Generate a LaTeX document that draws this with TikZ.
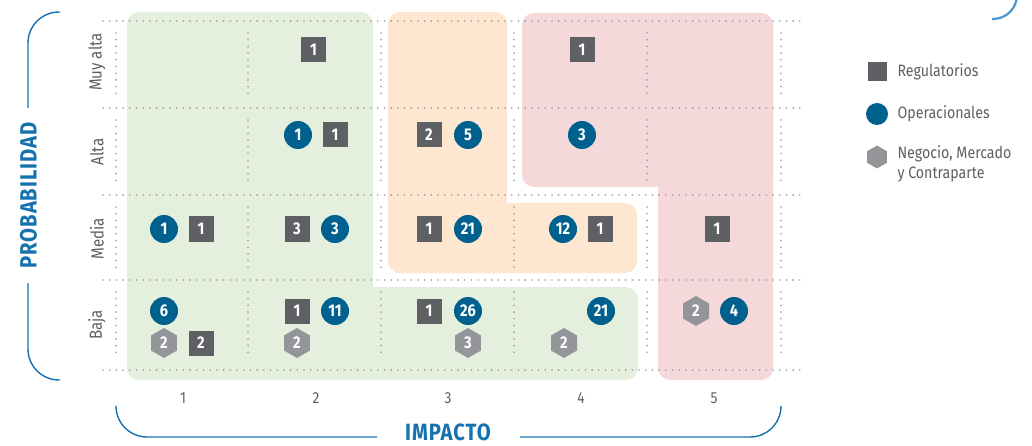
\documentclass[tikz,border=0pt]{standalone}
\usepackage{fontspec}
\setmainfont{Fira Sans}[FakeStretch=0.86]
\newfontfamily\axisfont{Fira Sans}[FakeStretch=0.86, LetterSpace=4]
\usetikzlibrary{shapes.geometric}
\definecolor{greenbg}{HTML}{E4F0DD}
\definecolor{orangebg}{HTML}{FDE7D0}
\definecolor{pinkbg}{HTML}{F5D8DA}
\definecolor{regc}{HTML}{5F6064}
\definecolor{opc}{HTML}{00618E}
\definecolor{negc}{HTML}{939598}
\definecolor{axisblue}{HTML}{1572AE}
\definecolor{arcblue}{HTML}{4A96CF}
\definecolor{dotc}{HTML}{9A9A9A}
\definecolor{txtc}{HTML}{5E5F62}
\begin{document}
\begin{tikzpicture}[x=1pt,y=-1pt,
  mfont/.style={font=\fontsize{17}{17}\selectfont\bfseries},
  reg/.style={rectangle, fill=regc, minimum size=25pt, inner sep=0pt, text=white, mfont},
  op/.style={circle, fill=opc, minimum size=28pt, inner sep=0pt, text=white, mfont},
  neg/.style={regular polygon, regular polygon sides=6, shape border rotate=30, fill=negc, minimum size=30pt, inner sep=0pt, text=white, mfont},
  dotline/.style={dotc, line width=1.8pt, line cap=round, dash pattern=on 0pt off 6.7pt},
  bracket/.style={axisblue, line width=1.4pt, rounded corners=31pt},
  rowlab/.style={txtc, rotate=90, font=\fontsize{17.5}{17.5}\selectfont},
  collab/.style={txtc, font=\fontsize{16}{16}\selectfont},
  axislab/.style={axisblue, inner sep=0pt, font=\axisfont\fontsize{23.5}{23.5}\selectfont\bfseries},
  legtext/.style={txtc, anchor=west, align=left, font=\fontsize{16.5}{19.5}\selectfont}
]
\useasboundingbox (0,0) rectangle (1032,446);
% coloured regions
\fill[greenbg, rounded corners=12pt] (127,12) rectangle (373,380);
\fill[greenbg, rounded corners=12pt] (127,287) rectangle (638,380);
\fill[orangebg, rounded corners=12pt] (388,12) rectangle (507,273);
\fill[orangebg, rounded corners=12pt] (388,203) rectangle (637,273);
\fill[pinkbg, rounded corners=12pt] (522,13) rectangle (773,187);
\fill[pinkbg, rounded corners=12pt] (658,13) rectangle (773,380);
% dotted grid
\foreach \y in {21,108,195,280,370} \draw[dotline] (103,\y) -- (800,\y);
\foreach \x in {116,248,381,514,647,781}
  \foreach \a/\b in {33/95,120/183,207/270,292/358}
    \draw[dotline] (\x,\a) -- (\x,\b);
% brackets
\draw[bracket] (60,12) -- (28,12) -- (28,108);
\draw[bracket] (28,283) -- (28,380) -- (60,380);
\draw[bracket] (116,407) -- (116,437) -- (377,437);
\draw[bracket] (520,437) -- (781,437) -- (781,407);
\draw[arcblue, line width=2.2pt, rounded corners=24pt] (992,19) -- (1017,19) -- (1017,-30);
% axis titles
\node[axislab, rotate=90] (prob) at (28.5,195.5) {PROBABILIDAD};
\node[axislab, anchor=base] (imp) at (448,440.5) {IMPACTO};
% row labels
\node[rowlab] (l1) at (97,62) {Muy alta};
\node[rowlab] (l2) at (97,152) {Alta};
\node[rowlab] (l3) at (97,239) {Media};
\node[rowlab] (l4) at (97,325) {Baja};
% column labels
\node[collab] (c1) at (183,398) {1};
\node[collab] (c2) at (316,398) {2};
\node[collab] (c3) at (448,398) {3};
\node[collab] (c4) at (581,398) {4};
\node[collab] (c5) at (714,398) {5};
% markers column 1
\node[op] (o31) at (164,229) {1};
\node[reg] (r31) at (201,229) {1};
\node[op] (o41) at (164,311) {6};
\node[neg] (n41) at (164,343) {2};
\node[reg] (r41) at (201,343) {2};
% column 2
\node[reg] (r12) at (313.5,49.5) {1};
\node[op] (o22) at (298,135) {1};
\node[reg] (r22) at (335,135) {1};
\node[reg] (r32) at (297,229) {3};
\node[op] (o32) at (335,229) {3};
\node[reg] (r42) at (297,311) {1};
\node[op] (o42) at (335,311) {11};
\node[neg] (n42) at (297,343) {2};
% column 3
\node[reg] (r23) at (429,135) {2};
\node[op] (o23) at (468,135) {5};
\node[reg] (r33) at (429,229) {1};
\node[op] (o33) at (468,229) {21};
\node[reg] (r43) at (429,311) {1};
\node[op] (o43) at (468,311) {26};
\node[neg] (n43) at (468,343) {3};
% column 4
\node[reg] (r14) at (582,49.5) {1};
\node[op] (o24) at (582,135) {3};
\node[op] (o34) at (563,229) {12};
\node[reg] (r34) at (600,229) {1};
\node[op] (o44) at (601,311) {21};
\node[neg] (n44) at (564,343) {2};
% column 5
\node[reg] (r35) at (717,229) {1};
\node[neg] (n45) at (696,311) {2};
\node[op] (o45) at (734,311) {4};
% legend
\node[rectangle, fill=regc, minimum size=19pt, inner sep=0pt] (lg1) at (877,72) {};
\node[circle, fill=opc, minimum size=22pt, inner sep=0pt] (lg2) at (877,114) {};
\node[regular polygon, regular polygon sides=6, shape border rotate=30, fill=negc, minimum size=23pt, inner sep=0pt] (lg3) at (877,157) {};
\node[legtext] (lt1) at (894,72) {Regulatorios};
\node[legtext] (lt2) at (894,114) {Operacionales};
\node[legtext] (lt3) at (894,164) {Negocio, Mercado\\y Contraparte};
\end{tikzpicture}
\end{document}
